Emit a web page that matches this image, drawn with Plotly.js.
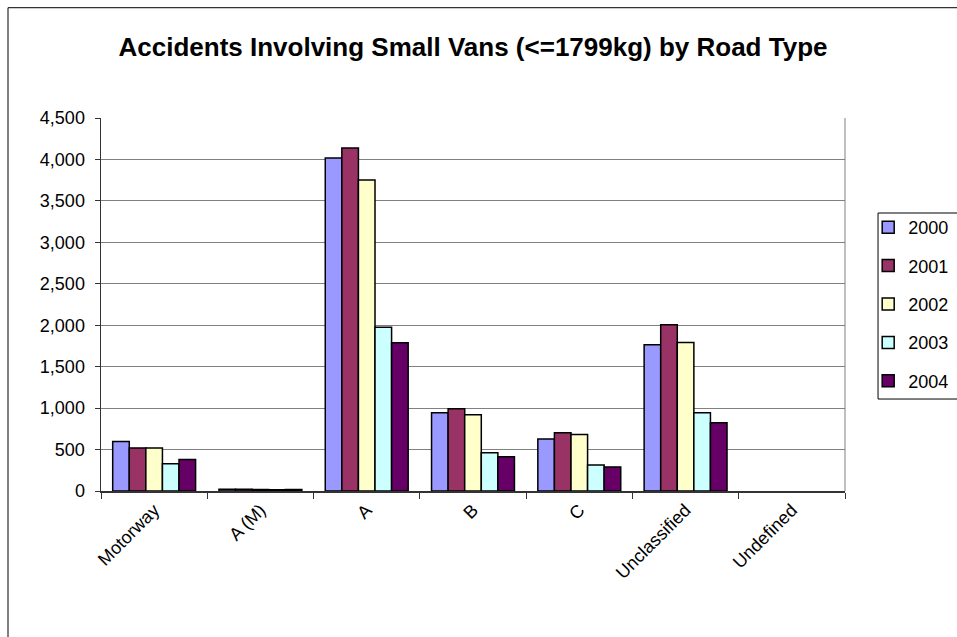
<!DOCTYPE html>
<html>
<head>
<meta charset="utf-8">
<script src="https://cdn.plot.ly/plotly-3.0.1.min.js"></script>
<style>html,body{margin:0;padding:0;background:#fff;}#chart{width:957px;height:637px;}</style>
</head>
<body>
<div id="chart"></div>
<script>
const categories = ["Motorway", "A (M)", "A", "B", "C", "Unclassified", "Undefined"];
const years = ["2000", "2001", "2002", "2003", "2004"];
const v2000 = [597, 22, 4016, 944, 626, 1764, null];
const v2001 = [520, 20, 4137, 993, 702, 2006, null];
const v2002 = [520, 18, 3753, 920, 683, 1792, null];
const v2003 = [328, 15, 1976, 460, 315, 944, null];
const v2004 = [380, 18, 1788, 412, 291, 823, null];
const seriesValues = [v2000, v2001, v2002, v2003, v2004];
const colors = ["#9999FF", "#993366", "#FFFFCC", "#CCFFFF", "#660066"];

const font = "Arial, 'Liberation Sans', sans-serif";
const traces = years.map((y, i) => ({
  type: "bar",
  name: y,
  x: categories,
  y: seriesValues[i],
  legendgroup: "g" + i,
  marker: {color: colors[i], line: {color: "#000", width: 1.5}},
  hoverinfo: "x+y+name"
}));

const layout = {
  width: 957, height: 637,
  margin: {l: 101, r: 112, t: 118, b: 146},
  paper_bgcolor: "#fff", plot_bgcolor: "#fff",
  font: {family: font, size: 18, color: "#000"},
  title: {text: "<b>Accidents Involving Small Vans (<=1799kg) by Road Type</b>",
          font: {family: font, size: 26, color: "#000"},
          x: 0.5, xref: "paper", xanchor: "center", y: 0.926, yref: "container", yanchor: "middle"},
  barmode: "group", bargap: 0.22, bargroupgap: 0,
  showlegend: true,
  legend: {xref: "container", yref: "container", x: 0.9072, xanchor: "left", y: 0.6719, yanchor: "top",
           borderwidth: 0, bgcolor: "rgba(0,0,0,0)",
           font: {family: font, size: 18}, traceorder: "grouped", tracegroupgap: 12},
  xaxis: {type: "category", tickson: "boundaries", ticks: "outside", ticklen: 6, tickcolor: "#333",
          showline: true, linecolor: "#333", linewidth: 1.5, tickangle: -45, automargin: false,
          tickfont: {family: font, size: 18}, showgrid: false, fixedrange: true},
  yaxis: {range: [0, 4500], dtick: 500, tickformat: ",d", ticks: "outside", ticklen: 5, tickcolor: "#333",
          showline: true, linecolor: "#333", linewidth: 1.5, showgrid: true, gridcolor: "#808080", gridwidth: 1,
          zeroline: false, automargin: false, ticklabelstandoff: 6, tickfont: {family: font, size: 18}, fixedrange: true},
  shapes: [
    {type: "line", xref: "paper", yref: "paper", x0: 1, x1: 1, y0: 0, y1: 1, line: {color: "#808080", width: 1}},
    {type: "rect", xref: "paper", yref: "paper", x0: -0.125, x1: 1.3, y0: -0.6, y1: 1.2957, line: {color: "#000", width: 1}, layer: "below"},
    {type: "rect", xref: "paper", yref: "paper", x0: 1.0444, x1: 1.2, y0: 0.2466, y1: 0.7453, line: {color: "#000", width: 1}, fillcolor: "#fff", layer: "below"}
  ]
};

Plotly.newPlot("chart", traces, layout, {displayModeBar: false, staticPlot: true});
</script>
</body>
</html>
